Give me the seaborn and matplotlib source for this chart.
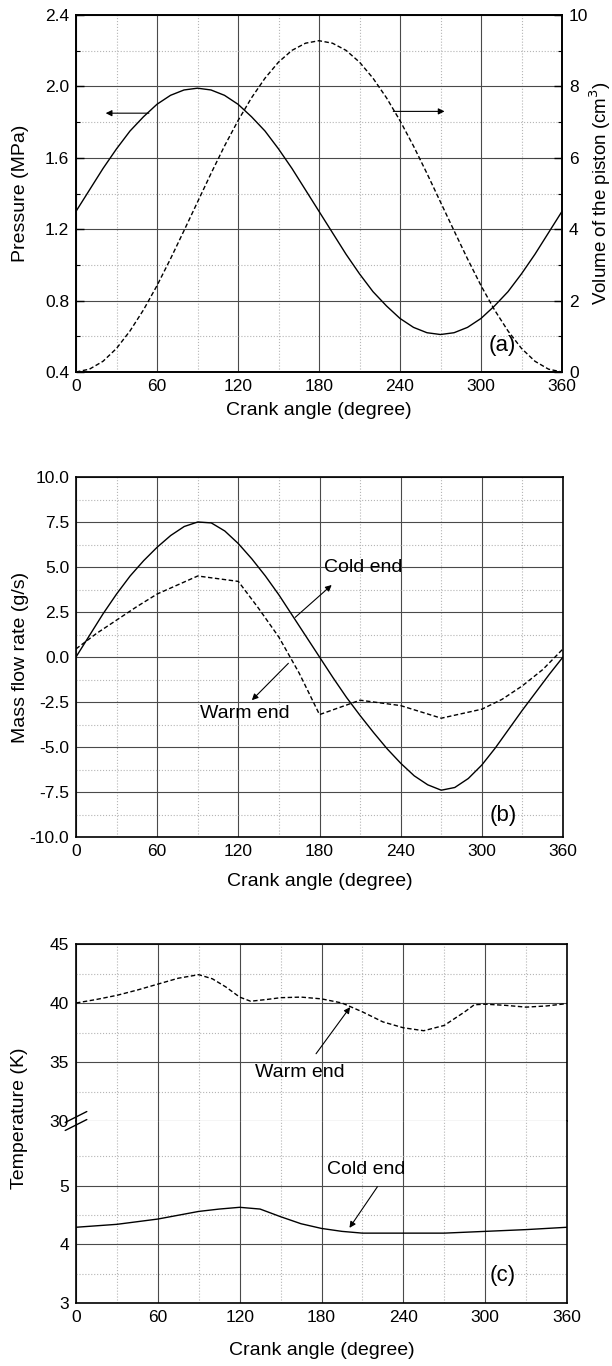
import numpy as np
import pandas as pd
import matplotlib
matplotlib.use("Agg")
import matplotlib.pyplot as plt
import seaborn as sns
from matplotlib.ticker import FixedLocator, MultipleLocator, FormatStrFormatter

# ---------------- data ----------------
angle10 = list(range(0, 361, 10))
pressure = [1.30, 1.42, 1.54, 1.65, 1.75, 1.83, 1.90, 1.95, 1.98, 1.99,
            1.98, 1.95, 1.90, 1.83, 1.75, 1.65, 1.54, 1.42, 1.30, 1.18,
            1.06, 0.95, 0.85, 0.77, 0.70, 0.65, 0.62, 0.61, 0.62, 0.65,
            0.70, 0.77, 0.85, 0.95, 1.06, 1.18, 1.30]
volume = [0.00, 0.08, 0.30, 0.66, 1.15, 1.74, 2.42, 3.17, 3.96, 4.76,
          5.56, 6.33, 7.04, 7.68, 8.23, 8.68, 9.01, 9.21, 9.28, 9.21,
          9.01, 8.68, 8.23, 7.68, 7.04, 6.33, 5.56, 4.76, 3.96, 3.17,
          2.42, 1.74, 1.15, 0.66, 0.30, 0.08, 0.00]

cold_flow = [0.0, 1.2, 2.4, 3.5, 4.5, 5.35, 6.1, 6.75, 7.25, 7.5,
             7.45, 7.0, 6.3, 5.45, 4.5, 3.45, 2.3, 1.15, 0.0, -1.15,
             -2.25, -3.25, -4.2, -5.1, -5.9, -6.6, -7.1, -7.4, -7.25, -6.75,
             -6.0, -5.05, -4.0, -2.95, -1.95, -0.95, 0.0]
warm_angle = [0, 15, 30, 45, 60, 75, 90, 105, 120, 135, 150, 165, 180,
              195, 210, 225, 240, 255, 270, 285, 300, 315, 330, 345, 360]
warm_flow = [0.45, 1.3, 2.05, 2.8, 3.5, 4.0, 4.5, 4.35, 4.2, 2.7, 1.1, -0.9, -3.2,
             -2.8, -2.4, -2.55, -2.7, -3.05, -3.4, -3.15, -2.9, -2.35, -1.6, -0.7, 0.45]

warm_t_angle = [0, 15, 30, 45, 60, 75, 90, 100, 110, 120, 128, 140, 150, 165, 180,
                195, 210, 225, 240, 255, 270, 285, 292, 300, 315, 330, 345, 360]
warm_temp = [40.0, 40.3, 40.65, 41.1, 41.6, 42.1, 42.4, 42.05, 41.35, 40.5, 40.15, 40.3,
             40.45, 40.5, 40.35, 40.0, 39.25, 38.4, 37.9, 37.65, 38.1, 39.25, 39.85,
             39.9, 39.8, 39.65, 39.75, 39.95]
cold_t_angle = [0, 30, 60, 90, 105, 120, 135, 150, 165, 180, 195, 210, 240, 270, 300, 330, 360]
cold_temp = [4.29, 4.34, 4.43, 4.56, 4.60, 4.63, 4.60, 4.47, 4.35, 4.27, 4.22, 4.19,
             4.19, 4.19, 4.22, 4.25, 4.29]

x_ticks = [0, 60, 120, 180, 240, 300, 360]

# ---------------- style ----------------
sns.set_style("white")
plt.rcParams['font.family'] = ['Liberation Sans', 'DejaVu Sans']
plt.rcParams['axes.unicode_minus'] = False
for k in ('text.color', 'axes.labelcolor', 'xtick.color', 'ytick.color', 'axes.edgecolor'):
    plt.rcParams[k] = 'black'

TICK_FS = 12.5
LABEL_FS = 14
DASH = (0, (3.2, 1.8))

fig = plt.figure(figsize=(6.12, 13.66), dpi=100)


def style_axes(ax, xticks=True):
    ax.set_xlim(0, 360)
    ax.xaxis.set_major_locator(FixedLocator(x_ticks))
    ax.xaxis.set_minor_locator(MultipleLocator(30))
    ax.grid(which='major', color='#4a4a4a', lw=0.8, ls='-')
    ax.grid(which='minor', color='#b5b5b5', lw=0.8, ls=':')
    ax.set_axisbelow(True)
    ax.tick_params(which='both', direction='in', colors='black', labelsize=TICK_FS)
    ax.tick_params(which='major', length=6, width=1.0)
    ax.tick_params(which='minor', length=3, width=0.8)
    ax.tick_params(axis='x', pad=5)
    ax.tick_params(axis='y', pad=5)
    ax.tick_params(top=False, right=False)
    for s in ax.spines.values():
        s.set_color('black')
        s.set_linewidth(1.2)
        s.set_visible(True)
    if not xticks:
        ax.tick_params(axis='x', which='both', bottom=False, labelbottom=False)


def line(ax, x, y, dashed=False):
    sns.lineplot(x=x, y=y, ax=ax, color='black', lw=1.0, estimator=None, sort=False)
    ln = ax.lines[-1]
    if dashed:
        ln.set_linestyle(DASH)
    return ln


arrow = dict(arrowstyle='-|>', color='black', lw=0.8, mutation_scale=9, shrinkA=0, shrinkB=0)

# ---------------- panel (a) ----------------
axa = fig.add_axes([76 / 612, 1 - 372 / 1366, 486 / 612, 357 / 1366])
style_axes(axa)
line(axa, angle10, pressure)
axa.set_ylim(0.4, 2.4)
axa.yaxis.set_major_locator(MultipleLocator(0.4))
axa.yaxis.set_minor_locator(MultipleLocator(0.2))
axa.yaxis.set_major_formatter(FormatStrFormatter('%.1f'))
axa.set_xlabel('Crank angle (degree)', fontsize=LABEL_FS)
axa.set_ylabel('Pressure (MPa)', fontsize=LABEL_FS)
axa.yaxis.set_label_coords(-0.097, 0.5)
axa.xaxis.set_label_coords(0.5, -0.085)

axv = axa.twinx()
line(axv, angle10, volume, dashed=True)
axv.set_ylim(0, 10)
axv.yaxis.set_major_locator(MultipleLocator(2))
axv.yaxis.set_minor_locator(MultipleLocator(1))
axv.grid(False)
axv.tick_params(which='both', direction='in', colors='black', labelsize=TICK_FS, pad=5)
axv.tick_params(which='major', length=6, width=1.0)
axv.tick_params(which='minor', length=3, width=0.8)
for s in axv.spines.values():
    s.set_color('black')
    s.set_linewidth(1.2)
axv.set_ylabel('Volume of the piston (cm$^3$)', fontsize=13.5)
axv.yaxis.set_label_coords(1.052, 0.5)

axa.annotate('', xy=(22, 1.85), xytext=(54, 1.85), arrowprops=arrow)
axa.annotate('', xy=(273, 1.86), xytext=(235, 1.86), arrowprops=arrow)
axa.text(316, 0.55, '(a)', fontsize=16, ha='center', va='center')

# ---------------- panel (b) ----------------
axb = fig.add_axes([76 / 612, 1 - 837 / 1366, 487 / 612, 360 / 1366])
style_axes(axb)
line(axb, angle10, cold_flow)
line(axb, warm_angle, warm_flow, dashed=True)
axb.set_ylim(-10, 10)
axb.yaxis.set_major_locator(MultipleLocator(2.5))
axb.yaxis.set_minor_locator(MultipleLocator(1.25))
axb.yaxis.set_major_formatter(FormatStrFormatter('%.1f'))
axb.set_xlabel('Crank angle (degree)', fontsize=LABEL_FS)
axb.set_ylabel('Mass flow rate (g/s)', fontsize=LABEL_FS)
axb.yaxis.set_label_coords(-0.097, 0.5)
axb.xaxis.set_label_coords(0.5, -0.1)
axb.annotate('', xy=(189, 4.0), xytext=(162, 2.2), arrowprops=arrow)
axb.text(212, 4.95, 'Cold end', fontsize=LABEL_FS, ha='center', va='center')
axb.annotate('', xy=(130, -2.4), xytext=(157, -0.35), arrowprops=arrow)
axb.text(125, -3.15, 'Warm end', fontsize=LABEL_FS, ha='center', va='center')
axb.text(316, -8.8, '(b)', fontsize=16, ha='center', va='center')

# ---------------- panel (c) (broken axis) ----------------
cl, cw = 76 / 612, 491 / 612
axct = fig.add_axes([cl, 1 - 1121 / 1366, cw, 177 / 1366])
axcb = fig.add_axes([cl, 1 - 1303 / 1366, cw, 182 / 1366], sharex=axct)
style_axes(axct, xticks=False)
style_axes(axcb)
line(axct, warm_t_angle, warm_temp, dashed=True)
line(axcb, cold_t_angle, cold_temp)

axct.set_ylim(30, 45)
axct.yaxis.set_major_locator(FixedLocator([30, 35, 40, 45]))
axct.yaxis.set_minor_locator(FixedLocator([32.5, 37.5, 42.5]))
axcb.set_ylim(3, 6.1)
axcb.yaxis.set_major_locator(FixedLocator([3, 4, 5]))
axcb.yaxis.set_minor_locator(FixedLocator([3.5, 4.5, 5.5]))
axct.spines['bottom'].set_visible(False)
axcb.spines['top'].set_visible(False)
axct.set_ylabel('')
axcb.set_ylabel('')
for t in axct.yaxis.get_major_ticks():
    if t.get_loc() == 30:
        t.gridline.set_visible(False)
        t.tick1line.set_visible(False)

axcb.set_xlabel('Crank angle (degree)', fontsize=LABEL_FS)
axcb.xaxis.set_label_coords(0.5, -0.215)
fig.text(20 / 612, 1 - 1118 / 1366, 'Temperature (K)', rotation=90,
         fontsize=LABEL_FS, ha='center', va='center')

# break marks on the left spine
for dy in (-0.022, 0.022):
    axcb.plot([-0.022, 0.022], [1.0 + dy - 0.03, 1.0 + dy + 0.03], transform=axcb.transAxes,
              color='black', lw=1.0, clip_on=False)

axct.annotate('', xy=(201, 39.65), xytext=(176, 35.7), arrowprops=arrow)
axct.text(164, 34.1, 'Warm end', fontsize=LABEL_FS, ha='center', va='center')
axcb.annotate('', xy=(200.5, 4.28), xytext=(221, 4.98), arrowprops=arrow)
axcb.text(212.5, 5.28, 'Cold end', fontsize=LABEL_FS, ha='center', va='center')
axcb.text(313, 3.47, '(c)', fontsize=16, ha='center', va='center')

fig.savefig('out.png', dpi=100)
